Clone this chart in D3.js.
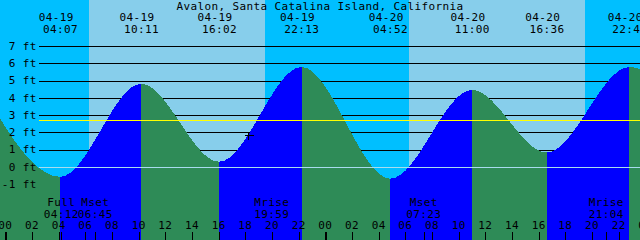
<!DOCTYPE html>
<html>
<head>
<meta charset="utf-8">
<script src="https://cdn.jsdelivr.net/npm/d3@7"></script>
<style>
  html, body { margin: 0; padding: 0; background: #fff; overflow: hidden; }
  svg { display: block; }
</style>
</head>
<body>
<div id="chart"></div>
<script>
// station + dates
const title = "Avalon, Santa Catalina Island, California";
const year = 2006;
const windowStart = "04-18 23:36";
const windowEnd = "04-20 23:36";

// tide extremes (first and last fall just outside the window)
const tideTimes = ["04-18 21:30", "04-19 04:07", "04-19 10:11", "04-19 16:02", "04-19 22:13",
                   "04-20 04:52", "04-20 11:00", "04-20 16:36", "04-20 22:48", "04-21 05:40"];
const tideHeights = [5.7, -0.58, 4.81, 0.29, 5.79, -0.69, 4.46, 0.83, 5.78, -0.7];

// sun + moon
const sunrise = ["04-19 06:17", "04-20 06:16"];
const sunset = ["04-19 19:28", "04-20 19:29"];
const moonTimes = ["04-19 04:12", "04-19 06:45", "04-19 19:59", "04-20 07:23", "04-20 21:04"];
const moonNames = ["Full", "Mset", "Mrise", "Mset", "Mrise"];

// y axis levels, mean sea level, the "+" mark
const levels = [-1, 0, 1, 2, 3, 4, 5, 6, 7];
const meanLevel = 2.71;
const markTime = "04-19 18:12";
const markHeight = 1.86;

const width = 640, height = 240;
const nightColor = "#00bfff", dayColor = "#87ceeb";
const flood = "#0000ff", ebb = "#2e8b57";
const font = "DejaVu Sans Mono";

const parse = d3.timeParse("%Y-%m-%d %H:%M");
const t = (s) => parse(year + "-" + s);
const fmtDate = d3.timeFormat("%m-%d");
const fmtTime = d3.timeFormat("%H:%M");

const x = d3.scaleTime().domain([t(windowStart), t(windowEnd)]).range([0, width]);
const y = d3.scaleLinear().domain([0, 7]).range([166.8, 46]);
const px = (v) => Math.round(v) + 0.5;

const svg = d3.select("#chart").append("svg")
  .attr("width", width)
  .attr("height", height)
  .attr("font-family", font)
  .attr("font-size", 11)
  .attr("letter-spacing", "0.38px");

// night background, then daylight bands
svg.append("rect").attr("width", width).attr("height", height).attr("fill", nightColor);
svg.append("g")
  .selectAll("rect")
  .data(sunrise.map((s, i) => [t(s), t(sunset[i])]))
  .join("rect")
  .attr("x", (d) => Math.round(x(d[0])))
  .attr("width", (d) => Math.round(x(d[1])) - Math.round(x(d[0])))
  .attr("y", 0)
  .attr("height", height)
  .attr("fill", dayColor);

// grid lines sit behind the water
svg.append("g")
  .attr("stroke", "#000")
  .attr("shape-rendering", "crispEdges")
  .selectAll("line")
  .data(levels.filter((v) => v !== 0))
  .join("line")
  .attr("x1", 39).attr("x2", width)
  .attr("y1", (d) => px(y(d))).attr("y2", (d) => px(y(d)));

// tide curve: whole area ebb colour, rising parts overdrawn in flood colour
const tides = tideTimes.map((s, i) => ({ date: t(s), h: tideHeights[i] }));
const area = d3.area()
  .x((d) => x(d.date))
  .y0(height)
  .y1((d) => y(d.h))
  .curve(d3.curveMonotoneX);

svg.append("path").datum(tides)
  .attr("fill", ebb)
  .attr("shape-rendering", "crispEdges")
  .attr("d", area);

const rising = d3.pairs(tides).filter(([a, b]) => b.h > a.h);
const defs = svg.append("defs");
rising.forEach(([a, b], i) => {
  defs.append("clipPath").attr("id", "rise" + i)
    .append("rect")
    .attr("x", Math.round(x(a.date)))
    .attr("width", Math.round(x(b.date)) - Math.round(x(a.date)))
    .attr("y", 0).attr("height", height);
  svg.append("path").datum(tides)
    .attr("fill", flood)
    .attr("shape-rendering", "crispEdges")
    .attr("clip-path", "url(#rise" + i + ")")
    .attr("d", area);
});

// datum and mean sea level lines on top
svg.append("line")
  .attr("x1", 39).attr("x2", width)
  .attr("y1", px(y(0))).attr("y2", px(y(0)))
  .attr("stroke", "#a8dcee")
  .attr("shape-rendering", "crispEdges");
svg.append("line")
  .attr("x1", 39).attr("x2", width)
  .attr("y1", px(y(meanLevel))).attr("y2", px(y(meanLevel)))
  .attr("stroke", "#ffff00")
  .attr("shape-rendering", "crispEdges");

// "+" mark
const mx = px(x(t(markTime))), my = px(y(markHeight));
svg.append("path")
  .attr("d", `M${mx - 4},${my}H${mx + 5}M${mx},${my - 4}V${my + 4}`)
  .attr("stroke", "#000")
  .attr("shape-rendering", "crispEdges");

// y labels
svg.append("g")
  .attr("text-anchor", "end")
  .selectAll("text")
  .data(levels)
  .join("text")
  .attr("x", 36.8)
  .attr("y", (d) => y(d) + 3.8)
  .text((d) => d + " ft");

// title
svg.append("text")
  .attr("x", width / 2)
  .attr("y", 9.5)
  .attr("text-anchor", "middle")
  .text(title);

// tide event labels along the top
const shown = tides.filter((d) => x(d.date) >= 0 && x(d.date) <= width);
const topLabels = svg.append("g").attr("text-anchor", "middle");
topLabels.selectAll(".date")
  .data(shown)
  .join("text")
  .attr("class", "date")
  .attr("x", (d) => x(d.date) - 4)
  .attr("y", 21)
  .text((d) => fmtDate(d.date));
topLabels.selectAll(".time")
  .data(shown)
  .join("text")
  .attr("class", "time")
  .attr("x", (d) => x(d.date) + 0.3)
  .attr("y", 33.2)
  .text((d) => fmtTime(d.date));

// moon events along the bottom
const moon = moonTimes.map((s, i) => ({ date: t(s), name: moonNames[i] }));
const bottomLabels = svg.append("g").attr("text-anchor", "middle");
bottomLabels.selectAll(".name")
  .data(moon)
  .join("text")
  .attr("class", "name")
  .attr("x", (d) => x(d.date))
  .attr("y", 205.6)
  .text((d) => d.name);
bottomLabels.selectAll(".time")
  .data(moon)
  .join("text")
  .attr("class", "time")
  .attr("x", (d) => x(d.date))
  .attr("y", 218)
  .text((d) => fmtTime(d.date));

// hour ticks every 2 h, thicker at midnight, plus moon event ticks
const hours = d3.timeHour.every(2).range(t(windowStart), d3.timeHour.offset(t(windowEnd), 2));
svg.append("g")
  .attr("text-anchor", "middle")
  .selectAll("text")
  .data(hours)
  .join("text")
  .attr("x", (d) => x(d))
  .attr("y", 229.4)
  .text(d3.timeFormat("%H"));

const ticks = svg.append("g").attr("stroke", "#000").attr("shape-rendering", "crispEdges");
ticks.selectAll(".hour")
  .data(hours)
  .join("line")
  .attr("class", "hour")
  .attr("x1", (d) => d.getHours() === 0 ? Math.round(x(d)) + 1 : px(x(d)))
  .attr("x2", (d) => d.getHours() === 0 ? Math.round(x(d)) + 1 : px(x(d)))
  .attr("y1", 232).attr("y2", height)
  .attr("stroke-width", (d) => d.getHours() === 0 ? 2 : 1);
ticks.selectAll(".moon")
  .data(moon)
  .join("line")
  .attr("class", "moon")
  .attr("x1", (d) => px(x(d.date))).attr("x2", (d) => px(x(d.date)))
  .attr("y1", 232).attr("y2", height);
</script>
</body>
</html>
